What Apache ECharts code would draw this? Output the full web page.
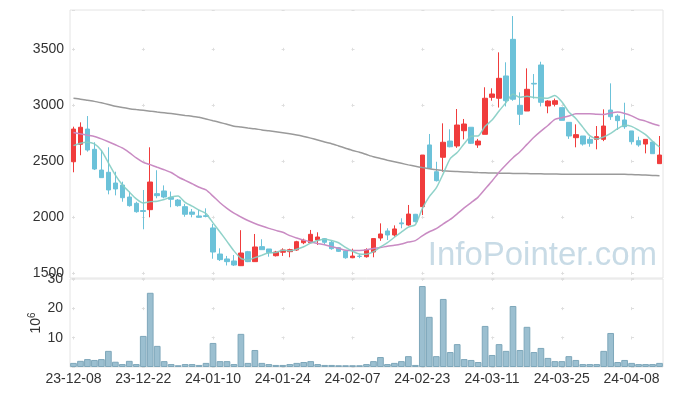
<!DOCTYPE html>
<html><head><meta charset="utf-8">
<script src="https://cdn.jsdelivr.net/npm/echarts/dist/echarts.min.js"></script>
<style>html,body{margin:0;padding:0;background:#fff}#c{width:673px;height:396px}</style>
</head><body><div id="c"></div>
<script>
const dates = ['23-12-08','23-12-11','23-12-12','23-12-13','23-12-14','23-12-15','23-12-18','23-12-19','23-12-20','23-12-21',
'23-12-22','23-12-26','23-12-27','23-12-28','24-01-02','24-01-03','24-01-04','24-01-05','24-01-08','24-01-09',
'24-01-10','24-01-11','24-01-12','24-01-15','24-01-16','24-01-17','24-01-18','24-01-19','24-01-22','24-01-23',
'24-01-24','24-01-25','24-01-26','24-01-29','24-01-30','24-01-31','24-02-01','24-02-02','24-02-05','24-02-06',
'24-02-07','24-02-08','24-02-13','24-02-14','24-02-15','24-02-16','24-02-19','24-02-20','24-02-21','24-02-22',
'24-02-23','24-02-26','24-02-27','24-02-28','24-02-29','24-03-04','24-03-05','24-03-06','24-03-07','24-03-08',
'24-03-11','24-03-12','24-03-13','24-03-14','24-03-15','24-03-18','24-03-19','24-03-20','24-03-21','24-03-22',
'24-03-25','24-03-26','24-03-27','24-03-28','24-03-29','24-04-01','24-04-02','24-04-03','24-04-04','24-04-05',
'24-04-08','24-04-09','24-04-11','24-04-12','24-04-15'];
const opens = [2496,2652,2788,2607,2422,2402,2306,2288,2181,2125, 2060,2068,2211,2235,2178,2154,2095,2047,2012,2014,
1905,1672,1628,1610,1568,1693,1604,1738,1717,1657, 1688,1693,1708,1773,1773,1797,1809,1777,1729,1699,
1639,1653,1648,1690,1815,1878,1842,1950,1931,2027, 2095,2646,2407,2536,2681,2637,2773,2804,2646,2741,
3071,3063,3262,3589,3000,2949,3196,3360,2994,3009, 2979,2848,2711,2726,2696,2696,2696,2958,2904,2869,
2771,2684,2654,2672,2479];
const closes = [2788,2804,2601,2431,2354,2244,2253,2175,2104,2050, 2052,2315,2193,2181,2161,2104,2027,2027,2000,2008,
1690,1622,1604,1574,1681,1604,1735,1711,1684,1690, 1708,1711,1782,1795,1848,1824,1777,1720,1696,1639,
1654,1651,1711,1810,1851,1842,1896,1942,2029,1961, 2556,2438,2327,2670,2630,2824,2833,2661,2681,3063,
3101,3241,3041,3054,2920,3143,3190,3027,3038,3041, 2866,2726,2738,2654,2661,2720,2815,2898,2863,2809,
2675,2646,2696,2568,2556];
const lows = [2402,2554,2586,2422,2354,2205,2196,2139,2095,2041, 1893,2000,2170,2170,2090,2095,2005,2000,1996,2000,
1630,1610,1570,1565,1565,1600,1604,1711,1648,1650, 1655,1643,1700,1760,1770,1753,1755,1710,1690,1630,
1635,1635,1640,1643,1790,1797,1827,1902,1925,1955, 2020,2438,2320,2407,2625,2620,2696,2655,2620,2741,
3041,2980,2990,3040,2824,2949,3060,2990,2929,2990, 2866,2700,2625,2640,2630,2607,2680,2870,2780,2790,
2650,2630,2571,2568,2479];
const highs = [2809,2848,2904,2670,2601,2625,2407,2318,2229,2139, 2244,2625,2420,2285,2230,2163,2120,2074,2065,2080,
1940,1723,1655,1663,1885,1700,1851,1804,1717,1700, 1723,1720,1790,1809,1887,1866,1815,1790,1735,1705,
1720,1670,1723,1812,1946,1902,1928,1991,2110,2030, 2556,2744,2496,2839,2786,2967,2878,2804,2700,3161,
3152,3473,3384,3797,3116,3330,3279,3389,3045,3060, 2979,2848,2830,2726,2720,2815,2964,3196,2920,3023,
2771,2720,2696,2672,2726];
const volumes = [1.4,2.1,2.7,2.4,2.7,5.5,1.8,1.0,2.1,1.0, 10.6,25.3,7.2,2.0,1.0,0.6,1.0,1.0,0.7,1.4,
8.2,2.0,2.0,1.0,11.3,1.4,5.8,1.4,1.0,0.7, 0.7,1.0,1.4,1.7,2.0,1.0,0.7,0.7,0.6,0.6,
0.6,0.6,1.0,2.0,3.4,1.0,1.4,2.0,3.7,0.7, 27.6,17.1,3.7,23.2,5.1,7.8,2.7,2.4,1.7,14.0,
4.1,7.8,5.5,20.8,5.8,13.7,5.1,6.5,3.1,2.0, 2.0,3.7,2.4,1.0,1.0,1.0,5.5,11.6,1.7,2.4,
1.4,1.0,1.0,1.0,1.4];
const ma5 = [2640,2662,2670,2655,2596,2487,2377,2291,2226,2165, 2128,2140,2144,2159,2181,2191,2133,2100,2064,2033,
1950,1869,1785,1700,1634,1617,1640,1661,1683,1685, 1706,1701,1715,1737,1769,1792,1805,1793,1773,1731,
1697,1672,1670,1693,1735,1773,1822,1868,1912,1934, 2077,2185,2262,2390,2524,2578,2657,2724,2726,2812,
2868,2949,3025,3100,3071,3080,3070,3067,3064,3088, 3032,2940,2882,2805,2729,2700,2718,2750,2791,2821,
2812,2778,2738,2679,2628];
const ma20 = [2757,2745,2733,2722,2700,2675,2648,2620,2578,2530, 2491,2470,2447,2425,2400,2360,2330,2300,2268,2244,
2189,2130,2080,2037,2003,1971,1945,1922,1901,1883, 1866,1836,1815,1796,1780,1766,1754,1738,1723,1705,
1703,1704,1710,1722,1730,1742,1750,1762,1779,1792, 1835,1871,1898,1942,1981,2031,2084,2131,2180,2252,
2324,2403,2470,2532,2586,2651,2715,2770,2820,2874, 2889,2904,2924,2924,2925,2920,2919,2931,2940,2927,
2906,2876,2859,2835,2817];
const ma120 = [3062,3055,3045,3035,3022,3008,2992,2980,2970,2962, 2955,2948,2940,2933,2926,2918,2910,2902,2893,2878,
2862,2847,2830,2813,2806,2798,2790,2780,2772,2763, 2754,2745,2735,2722,2707,2690,2672,2657,2637,2617,
2597,2580,2560,2540,2525,2510,2496,2482,2468,2456, 2444,2433,2424,2416,2411,2408,2405,2402,2399,2397,
2395,2394,2393,2392,2391,2390,2389,2388,2387,2386, 2385,2385,2384,2384,2384,2384,2384,2385,2385,2384,
2382,2380,2377,2374,2371];
const priceTickStep = 500;

const UP = '#F03C3C', DOWN = '#6CC2D9';
const CROSS = '#dedede';
const FONT = 'Liberation Sans';
const chart = echarts.init(document.getElementById('c'));
const candleData = opens.map((o, i) => [o, closes[i], lows[i], highs[i]]);
chart.setOption({
  animation: false,
  backgroundColor: '#ffffff',
  grid: [
    {left: 70, right: 10, top: 10, height: 268, show: true, borderColor: '#e4e4e4', borderWidth: 1},
    {left: 70, right: 10, top: 279, height: 88, show: true, borderColor: '#e4e4e4', borderWidth: 1}
  ],
  graphic: [{
    type: 'text', right: 16, top: 239, z: -10, silent: true,
    style: {text: 'InfoPointer.com', font: '33px "Liberation Sans"', fill: '#c8dbe6'}
  }],
  xAxis: [
    {type: 'category', gridIndex: 0, data: dates, boundaryGap: true,
     axisLine: {show: false}, axisTick: {show: false}, axisLabel: {show: false},
     splitLine: {show: true, interval: 9, alignWithLabel: true,
       lineStyle: {color: CROSS, width: 1, type: [3, 53], dashOffset: 18.2}}},
    {type: 'category', gridIndex: 1, data: dates, boundaryGap: true,
     axisLine: {show: false}, axisTick: {show: false},
     axisLabel: {interval: 9, color: '#333', fontSize: 14, margin: 5, fontFamily: FONT},
     splitLine: {show: true, interval: 9, alignWithLabel: true,
       lineStyle: {color: CROSS, width: 1, type: [3, 26.33], dashOffset: 1.2}}}
  ],
  yAxis: [
    {type: 'value', gridIndex: 0, min: 1458, max: 3851, scale: true,
     axisLine: {show: false}, axisTick: {show: false},
     axisLabel: {color: '#333', fontSize: 14, margin: 6, fontFamily: FONT, showMinLabel: false, showMaxLabel: false,
       formatter: v => (v % priceTickStep === 0 ? String(v) : '')},
     splitLine: {show: true, lineStyle: {color: CROSS, width: 1, type: [3, 66.88], dashOffset: 67.88}}},
    {type: 'value', gridIndex: 1, min: 0, max: 30, interval: 10,
     axisLine: {show: false}, axisTick: {show: false},
     axisLabel: {color: '#333', fontSize: 14, margin: 7, fontFamily: FONT, formatter: v => (v === 0 ? '' : String(v))},
     splitLine: {show: true, lineStyle: {color: CROSS, width: 1, type: [3, 66.88], dashOffset: 67.88}},
     name: '{a|10}{b|6}', nameLocation: 'middle', nameGap: 27, nameRotate: 90, nameMoveOverlap: false,
     nameTextStyle: {rich: {
       a: {fontSize: 14, lineHeight: 16, verticalAlign: 'bottom', color: '#333', fontFamily: FONT},
       b: {fontSize: 10, lineHeight: 10, verticalAlign: 'top', color: '#333', fontFamily: FONT}
     }}}
  ],
  series: [
    {type: 'candlestick', xAxisIndex: 0, yAxisIndex: 0, data: candleData, barWidth: '72%',
     itemStyle: {color: UP, color0: DOWN, borderColor: UP, borderColor0: DOWN, borderWidth: 1}},
    {type: 'line', xAxisIndex: 0, yAxisIndex: 0, data: ma120, showSymbol: false, smooth: 0.2,
     lineStyle: {color: '#9a9a9a', width: 1.5}},
    {type: 'line', xAxisIndex: 0, yAxisIndex: 0, data: ma20, showSymbol: false, smooth: 0.2,
     lineStyle: {color: '#c98bc3', width: 1.5}},
    {type: 'line', xAxisIndex: 0, yAxisIndex: 0, data: ma5, showSymbol: false, smooth: 0.2,
     lineStyle: {color: '#84cdc3', width: 1.5, opacity: 0.9}},
    {type: 'bar', xAxisIndex: 1, yAxisIndex: 1, data: volumes, barCategoryGap: '4%',
     itemStyle: {color: '#9bbfd0', borderColor: '#7ea7ba', borderWidth: 1}}
  ]
});
</script></body></html>
